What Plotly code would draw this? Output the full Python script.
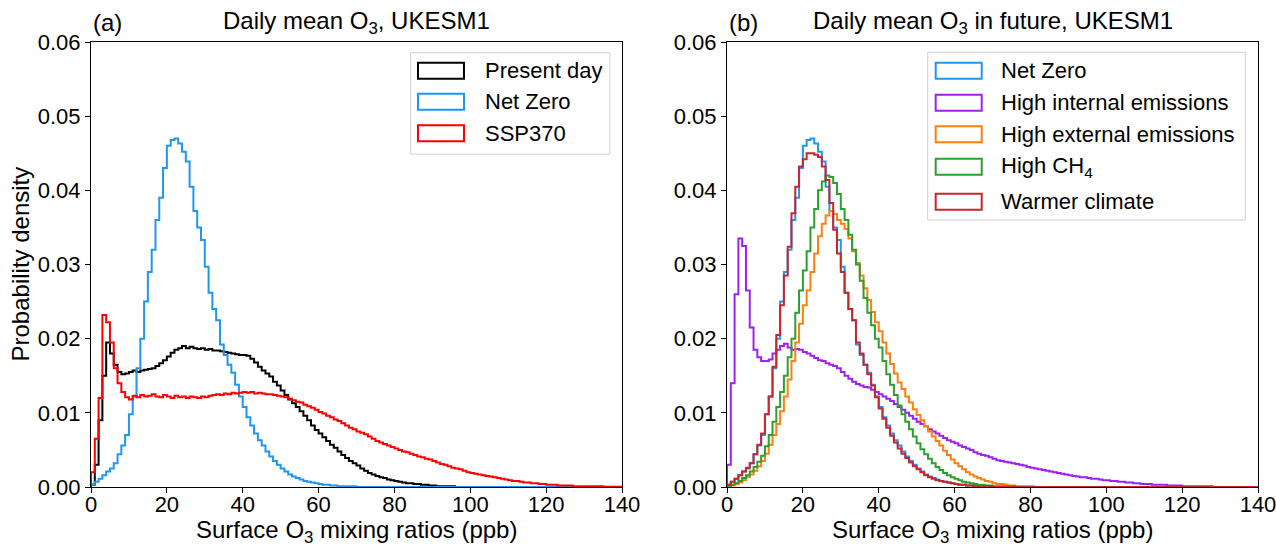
import plotly.graph_objects as go

# ---------------- data (probability density per 1-ppb bin, starting at 0 ppb) ----------------
bin_edges = list(range(0, 141))
x_ticks = [0, 20, 40, 60, 80, 100, 120, 140]
y_ticks = [0.00, 0.01, 0.02, 0.03, 0.04, 0.05, 0.06]

present_day = [
    0.0003, 0.0030, 0.0090, 0.0150, 0.0195, 0.0180, 0.0165, 0.0155, 0.0152, 0.0153,
    0.0155, 0.0157, 0.0155, 0.0157, 0.0158, 0.0159, 0.0160, 0.0163, 0.0167, 0.0171,
    0.0176, 0.0181, 0.0185, 0.0187, 0.0190, 0.0187, 0.0189, 0.0187, 0.0186, 0.0187,
    0.0185, 0.0186, 0.0184, 0.0184, 0.0183, 0.0182, 0.0181, 0.0180, 0.0179, 0.0178,
    0.0178, 0.0177, 0.0173, 0.0168, 0.0162, 0.0157, 0.0153, 0.0149, 0.0142, 0.0137,
    0.0130, 0.0124, 0.0118, 0.0113, 0.0108, 0.0102, 0.0096, 0.0090, 0.0083, 0.0077,
    0.0072, 0.0067, 0.0062, 0.0057, 0.0053, 0.0048, 0.0043, 0.0039, 0.0035, 0.0032,
    0.0029, 0.0025, 0.0022, 0.0019, 0.0017, 0.0015, 0.0013, 0.0012, 0.0010, 0.0009,
    0.0008, 0.0007, 0.0006, 0.0005, 0.0005, 0.0004, 0.0004, 0.0003, 0.0003, 0.0002,
    0.0002, 0.0001, 0.0001, 0.0001, 0.0001, 0.0001,
]

net_zero = [
    0.0003, 0.0007, 0.0011, 0.0016, 0.0021, 0.0025, 0.0032, 0.0044, 0.0056, 0.0070,
    0.0098, 0.0122, 0.0160, 0.0200, 0.0250, 0.0290, 0.0320, 0.0360, 0.0390, 0.0430,
    0.0460, 0.0468, 0.0470, 0.0463, 0.0452, 0.0439, 0.0405, 0.0372, 0.0350, 0.0333,
    0.0297, 0.0262, 0.0240, 0.0225, 0.0192, 0.0178, 0.0165, 0.0154, 0.0138, 0.0122,
    0.0108, 0.0094, 0.0083, 0.0072, 0.0063, 0.0056, 0.0048, 0.0041, 0.0035, 0.0030,
    0.0025, 0.0021, 0.0017, 0.0014, 0.0012, 0.0010, 0.0008, 0.0007, 0.0006, 0.0005,
    0.0004, 0.0003, 0.0003, 0.0002, 0.0002, 0.0001, 0.0001, 0.0001, 0.0001, 0.0001,
]

ssp370 = [
    0.0020, 0.0065, 0.0120, 0.0232, 0.0222, 0.0195, 0.0160, 0.0140, 0.0128, 0.0121,
    0.0118, 0.0123, 0.0121, 0.0124, 0.0122, 0.0123, 0.0125, 0.0122, 0.0121, 0.0124,
    0.0122, 0.0120, 0.0123, 0.0121, 0.0122, 0.0120, 0.0122, 0.0121, 0.0120, 0.0122,
    0.0121, 0.0123, 0.0124, 0.0125, 0.0124, 0.0126, 0.0125, 0.0127, 0.0126, 0.0127,
    0.0128, 0.0127, 0.0128, 0.0126, 0.0127, 0.0126, 0.0125, 0.0125, 0.0124, 0.0123,
    0.0122, 0.0121, 0.0119, 0.0117, 0.0115, 0.0114, 0.0111, 0.0109, 0.0107, 0.0104,
    0.0101, 0.0099, 0.0096, 0.0094, 0.0091, 0.0089, 0.0086, 0.0083, 0.0080, 0.0078,
    0.0075, 0.0073, 0.0071, 0.0068, 0.0065, 0.0062, 0.0060, 0.0058, 0.0056, 0.0054,
    0.0052, 0.0050, 0.0048, 0.0047, 0.0045, 0.0043, 0.0041, 0.0040, 0.0038, 0.0037,
    0.0035, 0.0033, 0.0031, 0.0030, 0.0028, 0.0026, 0.0025, 0.0024, 0.0022, 0.0020,
    0.0019, 0.0018, 0.0017, 0.0016, 0.0015, 0.0014, 0.0013, 0.0012, 0.0011, 0.0010,
    0.0009, 0.0008, 0.0008, 0.0007, 0.0006, 0.0006, 0.0005, 0.0005, 0.0004, 0.0004,
    0.0003, 0.0003, 0.0003, 0.0002, 0.0002, 0.0002, 0.0002, 0.0001, 0.0001, 0.0001,
    0.0001, 0.0001, 0.0001, 0.0001, 0.0001, 0.00005, 0.00005, 0.00005, 0.00005, 0.00005,
]

high_internal = [
    0.0030, 0.0140, 0.0260, 0.0335, 0.0325, 0.0265, 0.0215, 0.0185, 0.0175, 0.0170,
    0.0170, 0.0172, 0.0180, 0.0185, 0.0190, 0.0193, 0.0188, 0.0185, 0.0186, 0.0185,
    0.0182, 0.0180, 0.0177, 0.0174, 0.0171, 0.0170, 0.0167, 0.0165, 0.0163, 0.0160,
    0.0155, 0.0150, 0.0146, 0.0142, 0.0139, 0.0137, 0.0135, 0.0134, 0.0131, 0.0128,
    0.0125, 0.0122, 0.0119, 0.0116, 0.0112, 0.0108, 0.0104, 0.0100, 0.0096, 0.0092,
    0.0088, 0.0085, 0.0082, 0.0078, 0.0075, 0.0072, 0.0069, 0.0066, 0.0063, 0.0061,
    0.0059, 0.0056, 0.0054, 0.0052, 0.0050, 0.0047, 0.0045, 0.0043, 0.0042, 0.0040,
    0.0038, 0.0036, 0.0035, 0.0034, 0.0033, 0.0032, 0.0031, 0.0030, 0.0029, 0.0027,
    0.0026, 0.0025, 0.0024, 0.0023, 0.0022, 0.0021, 0.0020, 0.0019, 0.0018, 0.0017,
    0.0016, 0.0015, 0.0014, 0.0013, 0.0013, 0.0012, 0.0011, 0.0011, 0.0010, 0.0009,
    0.0009, 0.0008, 0.0008, 0.0007, 0.0007, 0.0006, 0.0006, 0.0005, 0.0005, 0.0004,
    0.0004, 0.0004, 0.0003, 0.0003, 0.0003, 0.0003, 0.0002, 0.0002, 0.0002, 0.0002,
    0.0001, 0.0001, 0.0001, 0.0001, 0.0001, 0.0001, 0.0001, 0.0001,
]

high_external = [
    0.0001, 0.0002, 0.0004, 0.0006, 0.0009, 0.0013, 0.0017, 0.0022, 0.0028, 0.0035,
    0.0045, 0.0057, 0.0070, 0.0085, 0.0102, 0.0122, 0.0145, 0.0170, 0.0195, 0.0220,
    0.0245, 0.0265, 0.0290, 0.0315, 0.0338, 0.0355, 0.0366, 0.0372, 0.0368, 0.0360,
    0.0355, 0.0348, 0.0335, 0.0318, 0.0302, 0.0285, 0.0268, 0.0252, 0.0236, 0.0222,
    0.0210, 0.0195, 0.0180, 0.0166, 0.0153, 0.0141, 0.0132, 0.0122, 0.0114, 0.0105,
    0.0097, 0.0090, 0.0082, 0.0075, 0.0068, 0.0062, 0.0056, 0.0049, 0.0043, 0.0037,
    0.0032, 0.0028, 0.0024, 0.0020, 0.0017, 0.0014, 0.0012, 0.0010, 0.0008, 0.0007,
    0.0005, 0.0004, 0.0004, 0.0003, 0.0002, 0.0002, 0.0001, 0.0001, 0.0001, 0.0001,
    0.0001,
]

high_ch4 = [
    0.0001, 0.0003, 0.0005, 0.0008, 0.0012, 0.0016, 0.0021, 0.0027, 0.0034, 0.0042,
    0.0055, 0.0070, 0.0088, 0.0108, 0.0128, 0.0150, 0.0175, 0.0200, 0.0235, 0.0265,
    0.0292, 0.0318, 0.0350, 0.0375, 0.0400, 0.0412, 0.0420, 0.0418, 0.0410, 0.0395,
    0.0375, 0.0360, 0.0340, 0.0320, 0.0300, 0.0278, 0.0255, 0.0235, 0.0218, 0.0200,
    0.0188, 0.0170, 0.0152, 0.0138, 0.0124, 0.0110, 0.0098, 0.0088, 0.0078, 0.0068,
    0.0059, 0.0051, 0.0044, 0.0038, 0.0032, 0.0027, 0.0023, 0.0019, 0.0016, 0.0013,
    0.0011, 0.0009, 0.0007, 0.0006, 0.0005, 0.0004, 0.0003, 0.0003, 0.0002, 0.0002,
    0.0001, 0.0001, 0.0001, 0.0001, 0.0001, 0.0001,
]

warmer_climate = [
    0.0003, 0.0007, 0.0011, 0.0016, 0.0021, 0.0026, 0.0032, 0.0044, 0.0057, 0.0072,
    0.0098, 0.0122, 0.0162, 0.0205, 0.0245, 0.0285, 0.0324, 0.0369, 0.0405, 0.0432,
    0.0442, 0.0450, 0.0450, 0.0448, 0.0445, 0.0432, 0.0414, 0.0383, 0.0347, 0.0315,
    0.0290, 0.0262, 0.0240, 0.0225, 0.0195, 0.0180, 0.0165, 0.0152, 0.0137, 0.0121,
    0.0106, 0.0092, 0.0080, 0.0069, 0.0060, 0.0052, 0.0045, 0.0039, 0.0033, 0.0028,
    0.0024, 0.0020, 0.0016, 0.0013, 0.0011, 0.0009, 0.0008, 0.0007, 0.0006, 0.0005,
    0.0004, 0.0003, 0.0003, 0.0002, 0.0002, 0.0001, 0.0001, 0.0001, 0.0001, 0.0001,
]

panel_a = [
    ("Present day", present_day, "#000000"),
    ("Net Zero", net_zero, "#1f96f0"),
    ("SSP370", ssp370, "#ff0000"),
]
panel_b = [
    ("Net Zero", net_zero, "#1f96f0"),
    ("High internal emissions", high_internal, "#a020f0"),
    ("High external emissions", high_external, "#ff7f0e"),
    ("High CH<sub>4</sub>", high_ch4, "#2ca02c"),
    ("Warmer climate", warmer_climate, "#c9262c"),
]

FONT = "Liberation Sans, Arial, Helvetica, sans-serif"
NB = len(bin_edges) - 1


def step_xy(values):
    vals = list(values) + [0.0] * (NB - len(values))
    xs = [bin_edges[0]] + bin_edges
    ys = [0.0] + vals + [0.0]
    return xs, ys


fig = go.Figure()

for name, vals, col in panel_a:
    xs, ys = step_xy(vals)
    fig.add_trace(go.Scatter(x=xs, y=ys, mode="lines", line=dict(color=col, width=2, shape="hv"),
                             name=name.replace("<sub>", "").replace("</sub>", ""),
                             showlegend=False, xaxis="x", yaxis="y", hoverinfo="skip"))
for name, vals, col in panel_b:
    xs, ys = step_xy(vals)
    fig.add_trace(go.Scatter(x=xs, y=ys, mode="lines", line=dict(color=col, width=2, shape="hv"),
                             name=name.replace("<sub>", "").replace("</sub>", ""),
                             showlegend=False, xaxis="x2", yaxis="y2", hoverinfo="skip"))

axis_common = dict(
    showline=True, mirror=True, linecolor="black", linewidth=1,
    ticks="outside", ticklen=5, tickwidth=1, tickcolor="black",
    showgrid=False, zeroline=False, automargin=False, ticklabeloverflow="allow",
    tickfont=dict(family=FONT, size=22, color="black"),
)

W, H = 1276, 546
ml, mr, mt, mb = 91, 18, 42, 59
pw = W - ml - mr
fig.update_layout(
    width=W, height=H,
    margin=dict(l=ml, r=mr, t=mt, b=mb),
    paper_bgcolor="white", plot_bgcolor="white",
    font=dict(family=FONT, size=22, color="black"),
    xaxis=dict(domain=[0, (622 - ml) / pw], range=[0, 140], tickvals=x_ticks,
               ticklabelstandoff=-7, **axis_common),
    xaxis2=dict(domain=[(727 - ml) / pw, 1], range=[0, 140], tickvals=x_ticks, anchor="y2",
                ticklabelstandoff=-7, **axis_common),
    yaxis=dict(range=[0, 0.06], tickvals=y_ticks, tickformat=".2f", **axis_common),
    yaxis2=dict(range=[0, 0.06], tickvals=y_ticks, tickformat=".2f", anchor="x2", **axis_common),
    showlegend=False,
)

annotations = []
shapes = []


def add_text(text, x, y, xref, yref, size, xanchor="center", yanchor="middle", angle=0):
    annotations.append(dict(text=text, x=x, y=y, xref=xref, yref=yref, showarrow=False,
                            xanchor=xanchor, yanchor=yanchor, textangle=angle,
                            font=dict(family=FONT, size=size, color="black")))


# titles
add_text("(a)", 0.0, 1.043, "x domain", "y domain", 24, xanchor="left")
add_text("Daily mean O<sub>3</sub>, UKESM1", 0.5, 1.043, "x domain", "y domain", 24)
add_text("(b)", 0.0, 1.043, "x2 domain", "y2 domain", 24, xanchor="left")
add_text("Daily mean O<sub>3</sub> in future, UKESM1", 0.5, 1.043, "x2 domain", "y2 domain", 24)
# axis labels
add_text("Surface O<sub>3</sub> mixing ratios (ppb)", 0.5, -0.100, "x domain", "y domain", 24)
add_text("Surface O<sub>3</sub> mixing ratios (ppb)", 0.5, -0.100, "x2 domain", "y2 domain", 24)
add_text("Probability density", -0.1337, 0.5, "x domain", "y domain", 24, angle=-90)


def legend(items, xref, yref, box, patch_x, text_x, rows):
    shapes.append(dict(type="rect", xref=xref, yref=yref, x0=box[0], x1=box[1], y0=box[2], y1=box[3],
                       line=dict(color="#d0d0d0", width=1), fillcolor="rgba(255,255,255,0.85)", layer="above"))
    for (name, _, col), ry in zip(items, rows):
        shapes.append(dict(type="rect", xref=xref, yref=yref, x0=patch_x[0], x1=patch_x[1],
                           y0=ry - 0.018, y1=ry + 0.018, line=dict(color=col, width=2),
                           fillcolor="rgba(255,255,255,0)", layer="above"))
        add_text(name, text_x, ry, xref, yref, 22, xanchor="left")


legend(panel_a, "x domain", "y domain", (0.602, 0.977, 0.748, 0.976), (0.6158, 0.7024), 0.7377,
       [0.9355, 0.8658, 0.7948])
legend(panel_b, "x2 domain", "y2 domain", (0.378, 0.976, 0.600, 0.977), (0.393, 0.4797), 0.5128,
       [0.9355, 0.8636, 0.7926, 0.7198, 0.6411])

fig.update_layout(annotations=annotations, shapes=shapes)
fig.write_html(
    "out.html",
    config={"displayModeBar": False},
    post_script="document.body.style.margin='0';document.body.style.overflow='hidden';",
)
